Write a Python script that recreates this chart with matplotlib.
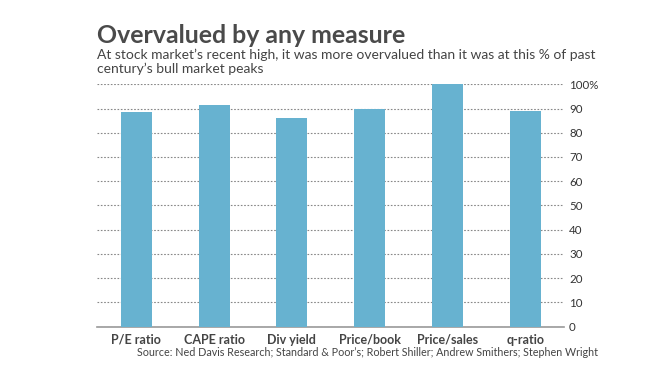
import matplotlib.pyplot as plt

categories = ['P/E ratio', 'CAPE ratio', 'Div yield', 'Price/book', 'Price/sales', 'q-ratio']
values = [88.6, 91.3, 86.1, 89.8, 100, 88.8]
yticks = [0, 10, 20, 30, 40, 50, 60, 70, 80, 90, 100]
ylabels = ['0', '10', '20', '30', '40', '50', '60', '70', '80', '90', '100%']

plt.rcParams['font.family'] = ['Lato', 'DejaVu Sans']

fig = plt.figure(figsize=(6.62, 3.86), dpi=100)
ax = fig.add_axes([0.147, 0.154, 0.7055, 0.6276])

ax.bar(range(len(categories)), values, width=0.4, color='#67b2d0', zorder=3)
ax.set_xlim(-0.5, 5.5)
ax.set_ylim(0, 100)

ax.set_yticks(yticks)
ax.set_yticklabels(ylabels)
ax.yaxis.tick_right()
ax.tick_params(axis='y', length=0, pad=3.4, labelsize=8.3, labelcolor='#333333')
ax.set_xticks(range(len(categories)))
ax.set_xticklabels(categories, fontweight='bold')
ax.tick_params(axis='x', length=0, pad=5, labelsize=9, labelcolor='#444444')

ax.grid(axis='y', linestyle=(0, (1.5, 1.5)), color='#888888', linewidth=0.8, zorder=0)
for s in ['top', 'left', 'right']:
    ax.spines[s].set_visible(False)
ax.spines['bottom'].set_color('#999999')
ax.spines['bottom'].set_linewidth(1.2)

title = fig.text(0.147, 0.8886, 'Overvalued by any measure', fontsize=18.8, fontweight='bold',
                 color='#4a4a4a')
sub1 = fig.text(0.147, 0.847, "At stock market\u2019s recent high, it was more overvalued than it was at this % of past",
                fontsize=9.6, color='#444444')
sub2 = fig.text(0.147, 0.811, "century\u2019s bull market peaks", fontsize=9.6, color='#444444')
source = fig.text(0.555, 0.0777, "Source: Ned Davis Research; Standard & Poor\u2019s; Robert Shiller; Andrew Smithers; Stephen Wright",
                  fontsize=7.8, color='#444444', ha='center')


# scale text so its width matches the reference (pixels)
def fit(t, width_px):
    fig.canvas.draw()
    bb = t.get_window_extent(fig.canvas.get_renderer())
    t.set_fontsize(t.get_fontsize() * width_px / bb.width)


fit(title, 309)
fit(sub1, 501)
sub2.set_fontsize(sub1.get_fontsize())
fit(source, 465)

fig.savefig('out.png', dpi=100)
